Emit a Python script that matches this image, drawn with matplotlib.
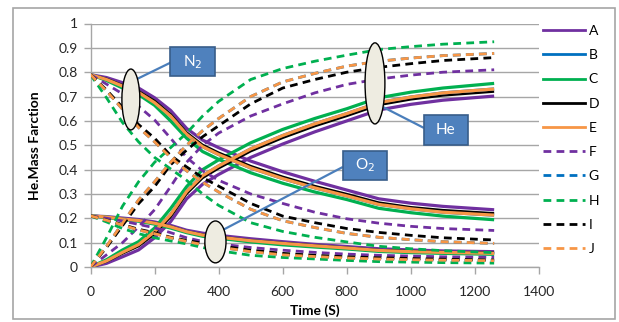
import matplotlib
matplotlib.use("Agg")
import matplotlib.pyplot as plt
from matplotlib.patches import Ellipse, Rectangle
from matplotlib.lines import Line2D

plt.rcParams['font.family'] = ['Lato', 'DejaVu Sans']

# ---------------- data ----------------
time_s = [0, 50, 100, 150, 200, 250, 300, 350, 400, 500, 600, 700, 800, 900, 1000, 1100, 1260]

series_names = ["A", "B", "C", "D", "E", "F", "G", "H", "I", "J"]

he_A = [0, .015, .042, .07, .12, .186, .28, .34, .38, .45, .505, .555, .60, .645, .668, .685, .702]
n2_A = [.79, .778, .757, .735, .695, .643, .569, .521, .490, .435, .391, .352, .316, .280, .262, .249, .235]
o2_A = [.21, .207, .201, .195, .185, .171, .151, .139, .130, .116, .104, .093, .084, .075, .070, .066, .063]

he_B = [0, .025, .06, .092, .145, .215, .31, .375, .415, .485, .54, .588, .63, .675, .698, .715, .731]
n2_B = [.79, .770, .743, .717, .675, .620, .545, .494, .462, .407, .363, .325, .292, .257, .239, .225, .213]
o2_B = [.21, .205, .197, .191, .180, .165, .145, .131, .123, .108, .097, .087, .078, .068, .063, .060, .056]

he_C = [0, .03, .07, .104, .16, .24, .33, .40, .44, .51, .565, .61, .65, .695, .718, .735, .754]
n2_C = [.79, .766, .735, .708, .664, .600, .529, .474, .442, .387, .344, .308, .277, .241, .223, .209, .194]
o2_C = [.21, .204, .195, .188, .176, .160, .141, .126, .118, .103, .091, .082, .074, .064, .059, .056, .052]

he_D = [0, .022, .055, .085, .135, .205, .30, .365, .405, .475, .53, .578, .62, .665, .688, .704, .72]
n2_D = [.79, .773, .747, .723, .683, .628, .553, .502, .470, .415, .371, .333, .300, .265, .246, .234, .221]
o2_D = [.21, .205, .198, .192, .182, .167, .147, .133, .125, .110, .099, .089, .080, .070, .066, .062, .059]

he_E = [0, .025, .06, .092, .145, .215, .31, .375, .415, .485, .54, .588, .63, .675, .698, .715, .731]
n2_E = [.79, .770, .743, .717, .675, .620, .545, .494, .462, .407, .363, .325, .292, .257, .239, .225, .213]
o2_E = [.21, .205, .197, .191, .180, .165, .145, .131, .123, .108, .097, .087, .078, .068, .063, .060, .056]

he_F = [0, .05, .10, .165, .235, .33, .43, .50, .55, .62, .67, .715, .75, .772, .788, .80, .81]
n2_F = [.79, .751, .711, .660, .604, .529, .450, .395, .356, .300, .261, .225, .198, .180, .167, .158, .150]
o2_F = [.21, .200, .189, .175, .161, .141, .120, .105, .095, .080, .069, .060, .053, .048, .045, .042, .040]

he_G = [0, .085, .18, .275, .35, .43, .50, .56, .61, .70, .76, .795, .825, .845, .858, .868, .877]
n2_G = [.79, .723, .648, .573, .514, .450, .395, .348, .308, .237, .190, .162, .138, .122, .112, .104, .097]
o2_G = [.21, .192, .172, .152, .137, .120, .105, .092, .082, .063, .050, .043, .037, .033, .030, .028, .026]

he_H = [0, .12, .25, .35, .43, .49, .55, .62, .68, .77, .815, .845, .87, .893, .905, .915, .925]
n2_H = [.79, .695, .593, .514, .450, .403, .356, .300, .253, .182, .146, .122, .103, .085, .075, .067, .059]
o2_H = [.21, .185, .158, .137, .120, .107, .095, .080, .067, .048, .039, .033, .027, .022, .020, .018, .016]

he_I = [0, .08, .17, .26, .33, .42, .48, .535, .58, .67, .735, .77, .80, .82, .835, .848, .86]
n2_I = [.79, .727, .656, .585, .529, .458, .411, .367, .332, .261, .209, .182, .158, .142, .130, .120, .111]
o2_I = [.21, .193, .174, .155, .141, .122, .109, .098, .088, .069, .056, .048, .042, .038, .035, .032, .029]

he_J = [0, .085, .18, .275, .35, .43, .50, .56, .61, .70, .76, .795, .825, .845, .858, .868, .877]
n2_J = [.79, .723, .648, .573, .514, .450, .395, .348, .308, .237, .190, .162, .138, .122, .112, .104, .097]
o2_J = [.21, .192, .172, .152, .137, .120, .105, .092, .082, .063, .050, .043, .037, .033, .030, .028, .026]

x_ticks = [0, 200, 400, 600, 800, 1000, 1200, 1400]
y_ticks = [0, 0.1, 0.2, 0.3, 0.4, 0.5, 0.6, 0.7, 0.8, 0.9, 1]
y_tick_labels = ["0", "0.1", "0.2", "0.3", "0.4", "0.5", "0.6", "0.7", "0.8", "0.9", "1"]
x_label = "Time (S)"
y_label = "He.Mass Farction"

# ---------------- styles ----------------
PURPLE = "#7030A0"
BLUE = "#0070C0"
GREEN = "#00B050"
BLACK = "#000000"
ORANGE = "#F79646"

series_data = {
    "A": (he_A, n2_A, o2_A), "B": (he_B, n2_B, o2_B), "C": (he_C, n2_C, o2_C),
    "D": (he_D, n2_D, o2_D), "E": (he_E, n2_E, o2_E), "F": (he_F, n2_F, o2_F),
    "G": (he_G, n2_G, o2_G), "H": (he_H, n2_H, o2_H), "I": (he_I, n2_I, o2_I),
    "J": (he_J, n2_J, o2_J),
}
dash = (0, (2.8, 1.9))
styles = {
    "A": dict(color=PURPLE, lw=2.3, ls="-"),
    "B": dict(color=BLUE, lw=2.3, ls="-"),
    "C": dict(color=GREEN, lw=2.3, ls="-"),
    "D": dict(color=BLACK, lw=1.6, ls="-"),
    "E": dict(color=ORANGE, lw=2.3, ls="-"),
    "F": dict(color=PURPLE, lw=2.0, ls=dash),
    "G": dict(color=BLUE, lw=2.0, ls=dash),
    "H": dict(color=GREEN, lw=2.0, ls=dash),
    "I": dict(color=BLACK, lw=2.0, ls=dash),
    "J": dict(color=ORANGE, lw=2.0, ls=dash),
}

fig = plt.figure(figsize=(6.19, 3.22), dpi=100)
fig.patch.set_facecolor("white")
ax = fig.add_axes([90.5 / 619, 1 - 267 / 322, (539 - 90.5) / 619, (267 - 23.5) / 322])

# outer chart border
fig.patches.append(Rectangle((13 / 619, 1 - 319 / 322), (615 - 13) / 619, (319 - 8) / 322,
                             transform=fig.transFigure, fill=False, ec="#A6A6A6", lw=1.2, zorder=0))

handles = []
for name in series_names:
    st = styles[name]
    he, n2, o2 = series_data[name]
    for vals in (he, n2, o2):
        ax.plot(time_s, vals, color=st["color"], lw=st["lw"], linestyle=st["ls"], zorder=3,
                solid_capstyle="butt", dash_capstyle="butt")
    handles.append(Line2D([], [], color=st["color"], lw=2.0, linestyle=st["ls"], label=name))

ax.set_xlim(0, 1400)
ax.set_ylim(0, 1)
ax.set_xticks(x_ticks)
ax.set_xticklabels([str(v) for v in x_ticks])
ax.set_yticks(y_ticks)
ax.set_yticklabels(y_tick_labels)
ax.grid(axis="y", color="#A6A6A6", lw=1.0, zorder=0)
ax.set_axisbelow(True)
for s in ("top", "right"):
    ax.spines[s].set_visible(False)
for s in ("left", "bottom"):
    ax.spines[s].set_color("#A6A6A6")
    ax.spines[s].set_linewidth(1.0)
ax.tick_params(axis="both", colors="#A6A6A6", labelcolor="#262626", labelsize=10, length=5, width=1)
ax.tick_params(axis="x", pad=9)
ax.tick_params(axis="y", pad=4)
ax.set_xlabel(x_label, fontsize=10, fontweight="bold", labelpad=4)
ax.set_ylabel(y_label, fontsize=10, fontweight="bold", labelpad=13)

# ---------------- annotations ----------------
BOX_FC = "#4F81BD"
BOX_EC = "#385D8A"
ELL_FC = "#EEECE1"

def callout(ell_c, ell_w, ell_h, line_a, line_b, box_c, box_w, box_h, label):
    ax.plot([line_a[0], line_b[0]], [line_a[1], line_b[1]], color="#4A7EBB", lw=1.6, zorder=5,
            solid_capstyle="butt")
    ax.add_patch(Ellipse(ell_c, ell_w, ell_h, fc=ELL_FC, ec="black", lw=1.0, zorder=6))
    ax.add_patch(Rectangle((box_c[0] - box_w / 2, box_c[1] - box_h / 2), box_w, box_h,
                           fc=BOX_FC, ec=BOX_EC, lw=1.2, zorder=6, clip_on=False))
    ax.text(box_c[0], box_c[1], label, color="white", fontsize=11, ha="center", va="center",
            zorder=7)

callout((126, 0.688), 56, 0.25, (145, 0.772), (254, 0.842), (318, 0.843), 140, 0.12, "N$_2$")
callout((888, 0.754), 62, 0.333, (913, 0.657), (1041, 0.571), (1109, 0.562), 137, 0.124, "He")
callout((390, 0.103), 66, 0.172, (413, 0.152), (788, 0.411), (857, 0.417), 137, 0.119, "O$_2$")

# ---------------- legend ----------------
fig.legend(handles=handles, loc="upper left", bbox_to_anchor=(543 / 619, 1 - 25 / 322),
           frameon=False, fontsize=10, handlelength=3.0, handletextpad=0.3,
           labelspacing=0.88, borderpad=0, borderaxespad=0)

fig.savefig("out.png", dpi=100, facecolor="white")
